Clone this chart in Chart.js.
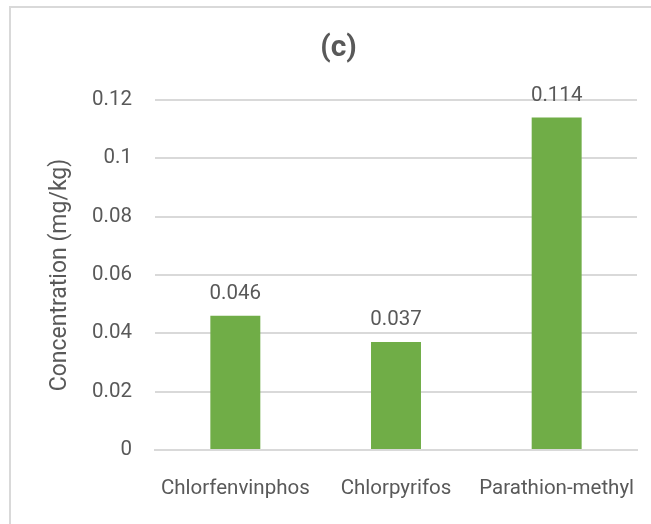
<!DOCTYPE html>
<html>
<head>
<meta charset="utf-8">
<script src="https://cdn.jsdelivr.net/npm/chart.js@4.4.1/dist/chart.umd.min.js"></script>
<style>
    html, body { margin: 0; padding: 0; background: #fff; overflow: hidden; }
    #wrap { position: relative; width: 651px; height: 524px; }
    #frame { position: absolute; left: 9px; top: 6px; width: 700px; height: 600px; border: 2px solid #d9d9d9; }
    canvas { position: absolute; left: 0; top: 0; }
</style>
</head>
<body>
<div id="wrap">
    <div id="frame"></div>
    <canvas id="grafico" width="651" height="524"></canvas>
</div>
<script>
const categorias = ["Chlorfenvinphos", "Chlorpyrifos", "Parathion-methyl"];
const concentracoes = [0.046, 0.037, 0.114];
const ticksY = [0, 0.02, 0.04, 0.06, 0.08, 0.1, 0.12];

const COR_TEXTO = "#595959";
const COR_BARRA = "#70ad47";
const COR_GRADE = "#d9d9d9";
const FONTE = "Roboto";

// rotulos de valor acima das barras
const rotulosValor = {
    id: "rotulosValor",
    afterDatasetsDraw(chart) {
        const ctx = chart.ctx;
        const meta = chart.getDatasetMeta(0);
        ctx.save();
        ctx.font = `20.5px ${FONTE}`;
        ctx.fillStyle = COR_TEXTO;
        ctx.textAlign = "center";
        ctx.textBaseline = "alphabetic";
        meta.data.forEach((barra, i) => {
            ctx.fillText(String(concentracoes[i]), barra.x, barra.y - 17);
        });
        ctx.restore();
    }
};

new Chart(document.getElementById("grafico").getContext("2d"), {
    type: "bar",
    data: {
        labels: categorias,
        datasets: [{
            data: concentracoes,
            backgroundColor: COR_BARRA,
            barPercentage: 0.311,
            categoryPercentage: 1
        }]
    },
    options: {
        responsive: false,
        animation: false,
        layout: { padding: { left: 40, right: 14, top: 0, bottom: 0 } },
        plugins: {
            legend: { display: false },
            tooltip: { enabled: false },
            title: {
                display: true,
                text: "(c)",
                color: COR_TEXTO,
                font: { family: FONTE, size: 30, weight: "bold" },
                padding: { top: 30, bottom: 34 }
            }
        },
        scales: {
            y: {
                min: 0,
                max: 0.12,
                afterBuildTicks: (eixo) => { eixo.ticks = ticksY.map(v => ({ value: v })); },
                afterFit: (eixo) => { eixo.width = 115; eixo.paddingTop = 0; eixo.paddingBottom = 0; },
                ticks: {
                    color: COR_TEXTO,
                    padding: 23,
                    font: { family: FONTE, size: 20.5 },
                    callback: (v) => String(v)
                },
                grid: { color: COR_GRADE, lineWidth: 2, drawTicks: false },
                border: { display: false },
                title: {
                    display: true,
                    text: "Concentration (mg/kg)",
                    color: COR_TEXTO,
                    font: { family: FONTE, size: 23 },
                    padding: { top: 6, bottom: 0 }
                }
            },
            x: {
                afterFit: (eixo) => { eixo.height = 74; eixo.paddingLeft = 0; eixo.paddingRight = 0; },
                ticks: {
                    color: COR_TEXTO,
                    padding: 27,
                    maxRotation: 0,
                    font: { family: FONTE, size: 20.5 }
                },
                grid: { display: false, drawTicks: false },
                border: { display: true, color: COR_GRADE, width: 2 }
            }
        }
    },
    plugins: [rotulosValor]
});
</script>
</body>
</html>
